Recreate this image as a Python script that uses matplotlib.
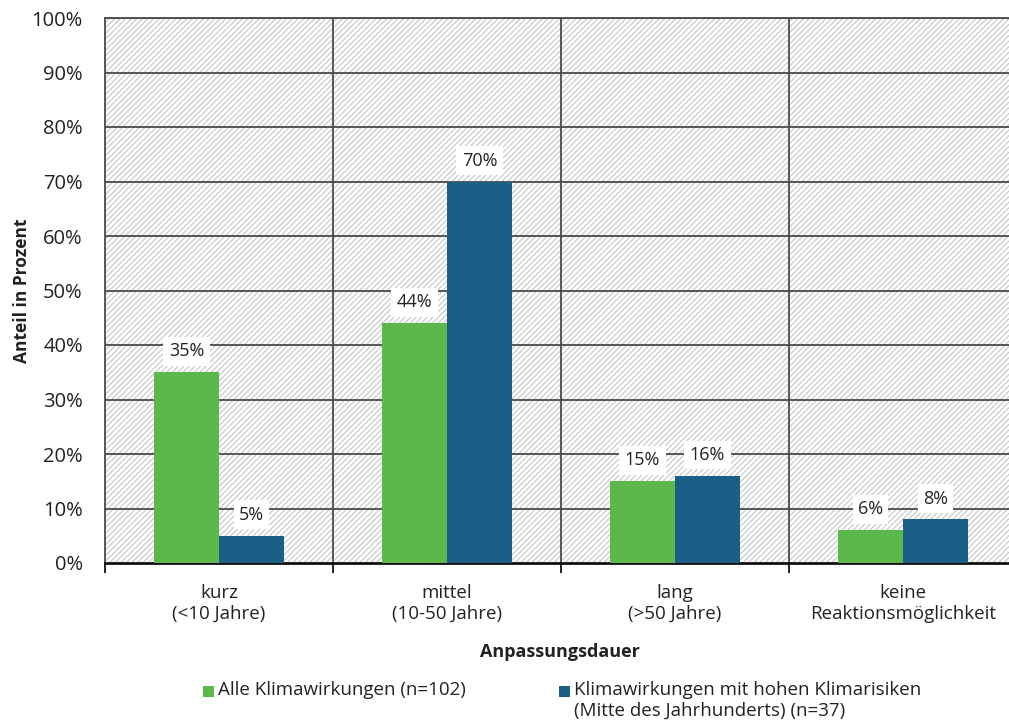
import matplotlib
matplotlib.use("Agg")
import matplotlib.pyplot as plt
from matplotlib.patches import Rectangle
import numpy as np

categories = ["kurz\n(<10 Jahre)", "mittel\n(10-50 Jahre)", "lang\n(>50 Jahre)", "keine\nReaktionsmöglichkeit"]
alle = [35, 44, 15, 6]
hohe = [5, 70, 16, 8]
series_names = ["Alle Klimawirkungen (n=102)",
                "Klimawirkungen mit hohen Klimarisiken\n(Mitte des Jahrhunderts) (n=37)"]
yticks = [0, 10, 20, 30, 40, 50, 60, 70, 80, 90, 100]

green = "#5cb84a"
blue = "#1c5f86"
grid_c = "#4a4a4a"
text_c = "#222222"

plt.rcParams["font.family"] = ["Open Sans", "DejaVu Sans"]
plt.rcParams["hatch.color"] = "#c2c2c2"
plt.rcParams["hatch.linewidth"] = 0.75

fig = plt.figure(figsize=(10.09, 7.26), dpi=100)
ax = fig.add_axes([105 / 1009, 1 - 563 / 726, 912 / 1009, (563 - 18) / 726])

x = np.arange(len(categories))
w = 0.285

# hatched background
ax.add_patch(Rectangle((-0.5, 0), 4, 100, facecolor="white", edgecolor="#c2c2c2",
                       hatch="//////", linewidth=0, zorder=0))
ax.set_xlim(-0.5, 3.5)
ax.set_ylim(0, 100)

for yv in yticks[1:]:
    ax.axhline(yv, color=grid_c, lw=1.3, zorder=1)
for xv in np.arange(0.5, 3.5, 1):
    ax.axvline(xv, color=grid_c, lw=1.3, zorder=1)

b1 = ax.bar(x - w / 2, alle, w, color=green, zorder=3)
b2 = ax.bar(x + w / 2, hohe, w, color=blue, zorder=3)

for bars, vals in ((b1, alle), (b2, hohe)):
    for r, v in zip(bars, vals):
        ax.annotate(f"{v}%", (r.get_x() + r.get_width() / 2, v), xytext=(0, 15),
                    textcoords="offset points", ha="center", va="center",
                    fontsize=13, color=text_c, zorder=5,
                    bbox=dict(boxstyle="square,pad=0.3", fc="white", ec="none"))

for s in ["top", "right", "left"]:
    ax.spines[s].set_color(grid_c)
    ax.spines[s].set_linewidth(1.3)
ax.spines["bottom"].set_color("#111111")
ax.spines["bottom"].set_linewidth(2)

ax.set_yticks(yticks)
ax.set_yticklabels([f"{v}%" for v in yticks], fontsize=14.5, color=text_c)
ax.tick_params(axis="y", length=0, pad=16)

ax.set_xticks(np.arange(-0.5, 4, 1))
ax.set_xticklabels([])
ax.tick_params(axis="x", direction="out", length=7, width=1.3, color="#111111")
for xi, lab in zip(x, categories):
    ax.text(xi, -3.9, lab, ha="center", va="top", fontsize=13.5, color=text_c,
            linespacing=1.2, transform=ax.transData, clip_on=False)

ax.set_ylabel("Anteil in Prozent", fontsize=12.5, fontweight="bold", color=text_c)
ax.yaxis.set_label_coords(-(105 - 31) / 912, 0.5)
fig.text(560 / 1009, 1 - 652 / 726, "Anpassungsdauer", ha="center", va="center",
         fontsize=13, fontweight="bold", color=text_c)

# legend
for px, col, name in ((203, green, series_names[0]), (559, blue, series_names[1])):
    fig.patches.append(Rectangle((px / 1009, 1 - 697 / 726), 11 / 1009, 11 / 726,
                                 transform=fig.transFigure, facecolor=col, edgecolor="none"))
    fig.text((px + 15) / 1009, 1 - 681 / 726, name, ha="left", va="top",
             fontsize=13.5, color=text_c, linespacing=1.2)

fig.savefig("out.png", dpi=100)
